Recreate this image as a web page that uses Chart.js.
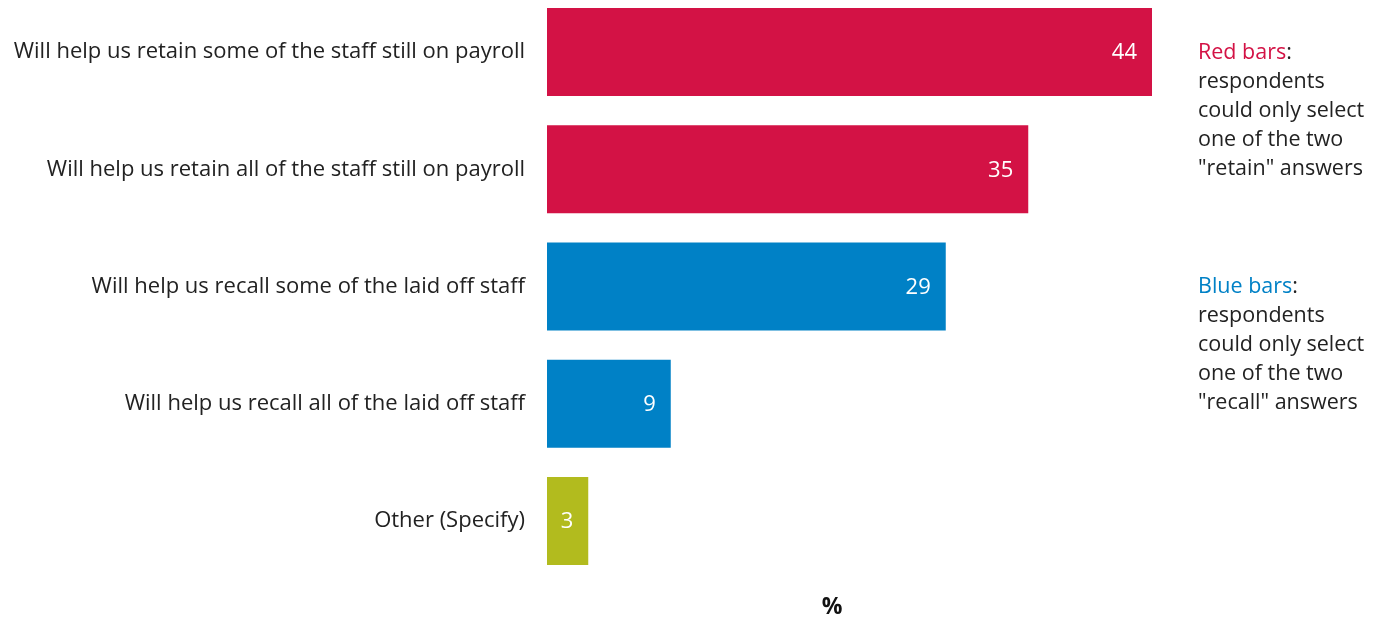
<!DOCTYPE html>
<html>
<head>
<meta charset="utf-8">
<script src="https://cdn.jsdelivr.net/npm/chart.js@4.4.1/dist/chart.umd.min.js"></script>
<style>
  html, body { margin: 0; padding: 0; background: #fff; }
  #wrap { position: relative; width: 1378px; height: 617px; }
  .note { position: absolute; left: 1198px; font-family: "Open Sans", sans-serif; font-size: 21.5px; line-height: 29px; color: #222; }
  .red { color: #d31245; }
  .blue { color: #0081c6; }
</style>
</head>
<body>
<div id="wrap">
  <canvas id="chart" width="1378" height="617"></canvas>
  <div class="note" style="top:36px"><span class="red">Red bars</span>:<br>respondents<br>could only select<br>one of the two<br>"retain" answers</div>
  <div class="note" style="top:270px"><span class="blue">Blue bars</span>:<br>respondents<br>could only select<br>one of the two<br>"recall" answers</div>
</div>
<script>
const categories = [
  "Will help us retain some of the staff still on payroll",
  "Will help us retain all of the staff still on payroll",
  "Will help us recall some of the laid off staff",
  "Will help us recall all of the laid off staff",
  "Other (Specify)"
];
const values = [44, 35, 29, 9, 3];
const barColors = ["#d31245", "#d31245", "#0081c6", "#0081c6", "#b2bb1e"];

const FONT = '"Open Sans", sans-serif';

// value labels inside bar ends + the "%" axis caption
const labelPlugin = {
  id: "labels",
  afterDatasetsDraw(chart) {
    const ctx = chart.ctx;
    const meta = chart.getDatasetMeta(0);
    ctx.save();
    ctx.font = "22px " + FONT;
    ctx.fillStyle = "#fff";
    ctx.textAlign = "right";
    ctx.textBaseline = "middle";
    meta.data.forEach((bar, i) => {
      ctx.fillText(String(values[i]), bar.x - 15, bar.y + 1);
    });
    ctx.font = "bold 23px " + FONT;
    ctx.fillStyle = "#111";
    ctx.textAlign = "center";
    ctx.fillText("%", 832, 607);
    ctx.restore();
  }
};

new Chart(document.getElementById("chart").getContext("2d"), {
  type: "bar",
  data: {
    labels: categories,
    datasets: [{
      data: values,
      backgroundColor: barColors,
      borderWidth: 0,
      categoryPercentage: 1,
      barPercentage: 0.75,
      clip: false
    }]
  },
  options: {
    indexAxis: "y",
    responsive: false,
    animation: false,
    layout: { padding: { top: 52, bottom: 96, left: 0, right: 226 } },
    scales: {
      x: {
        min: 0, max: 44,
        display: false
      },
      y: {
        offset: false,
        grid: { display: false },
        border: { display: false },
        afterFit: (s) => { s.width = 547; },
        ticks: {
          padding: 14,
          color: "#222",
          font: { family: FONT, size: 22 }
        }
      }
    },
    plugins: {
      legend: { display: false },
      tooltip: { enabled: false }
    }
  },
  plugins: [labelPlugin]
});
</script>
</body>
</html>
